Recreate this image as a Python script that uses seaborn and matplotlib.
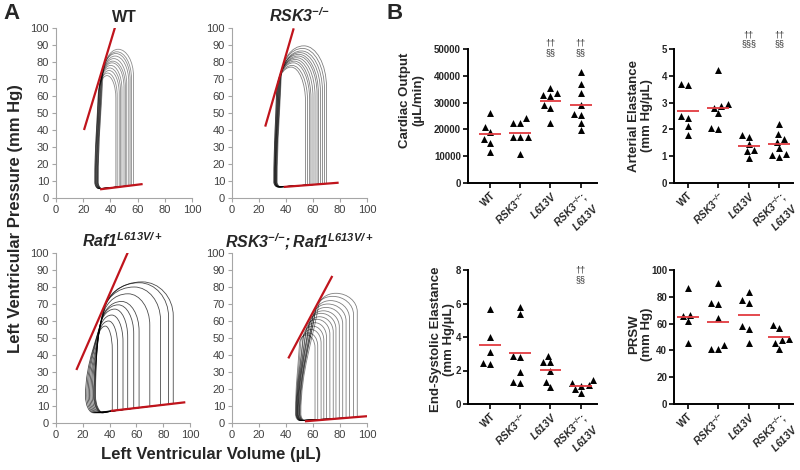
import matplotlib
matplotlib.use("Agg")
import matplotlib.pyplot as plt
import numpy as np
import pandas as pd
import seaborn as sns
from matplotlib.patches import PathPatch
from matplotlib.path import Path

sns.set_style("ticks")
plt.rcParams["font.family"] = ["Liberation Sans", "DejaVu Sans"]
plt.rcParams["mathtext.fontset"] = "custom"
plt.rcParams["mathtext.rm"] = "Liberation Sans:italic:bold"
plt.rcParams["mathtext.it"] = "Liberation Sans:italic:bold"
plt.rcParams["mathtext.bf"] = "Liberation Sans:italic:bold"

#################
# Panel A data: PV loops (volume uL, pressure mm Hg), one entry per loop
#################
wt_edv = [44, 45, 46.5, 47.5, 48.5, 50, 51, 52, 53.5, 54.5, 55.5, 57]
wt_esv = [28.5, 28.5, 29, 29, 29.5, 29.5, 30, 30, 30.5, 30.5, 31, 31]
wt_ves = [31, 31, 31.5, 31.5, 32, 32.5, 32.5, 33, 33.5, 33.5, 34, 34.5]
wt_pmax = [72, 73.5, 75, 76.5, 78, 79.5, 80.5, 82, 83.5, 85, 86, 87.5]
wt_espvr = ([20.6, 43.4], [40, 100.4])
wt_edpvr = ([32.4, 63.7], [5.1, 8.2])

rsk_edv = [54.5, 56, 57.5, 58.5, 60, 61.5, 63, 64, 65.5, 67, 68.5, 70]
rsk_esv = [31, 31, 31.5, 31.5, 32, 32, 32, 32.5, 32.5, 33, 33, 33.5]
rsk_ves = [33, 33, 33.5, 34, 34, 34.5, 35, 35, 35.5, 36, 36, 36.5]
rsk_pmax = [77, 78, 79.5, 80.5, 81.5, 82.5, 83.5, 84.5, 85.5, 86.5, 88, 89.5]
rsk_espvr = ([24.6, 45.7], [42, 99.8])
rsk_edpvr = ([38.3, 79], [6.5, 9])

raf_edv = [42, 46, 50, 53.5, 58, 62, 70, 78, 84, 87.5]
raf_esv = [29.5, 29, 28.5, 28, 27, 26, 25, 24, 23, 22]
raf_ves = [30.5, 31, 31.5, 32, 32.5, 33, 34, 34.5, 35.5, 36]
raf_pmax = [57, 60, 63.5, 67, 69.5, 71.5, 76, 80, 82.5, 83]
raf_espvr = ([15.2, 53.5], [31.2, 100.2])
raf_edpvr = ([40.9, 96.5], [7.1, 12.2])

dbl_edv = [61.5, 63.5, 66, 68, 70, 72.5, 75, 77, 79.5, 82, 84.5, 87, 90, 92.8]
dbl_esv = [47, 47.5, 47.5, 48, 48, 48.5, 48.5, 49, 49, 49.5, 50, 50, 50.5, 51]
dbl_ves = [50, 51, 52.5, 53, 54.5, 55, 56.5, 57, 58, 59.5, 60, 61.5, 62, 64]
dbl_pmax = [51.8, 53, 55, 57, 59, 61, 62.5, 64.5, 66, 68, 70, 72, 74.5, 76.3]
dbl_espvr = ([41.7, 74.3], [38, 86.5])
dbl_edpvr = ([54, 100], [1.0, 4.0])

#################
# Panel B data
#################
groups = ["WT", "RSK3", "L613V", "RSK3;L613V"]
group_labels = ["WT", r"$RSK3^{{-}/{-}}$", r"$L613V$", "$RSK3^{{-}/{-}}$;\n$L613V$"]

co_wt = [26250, 21000, 19100, 16250, 15100, 11400]
co_rsk = [24100, 22500, 22500, 17250, 17250, 17250, 11000]
co_l613 = [35400, 33750, 32900, 32600, 29100, 28100, 22500]
co_dbl = [41250, 37000, 33500, 29000, 25900, 25400, 22500, 19750]

ae_wt = [3.69, 3.64, 2.5, 2.41, 2.14, 1.79]
ae_rsk = [4.2, 2.94, 2.88, 2.81, 2.6, 2.06, 2.0]
ae_l613 = [1.79, 1.72, 1.45, 1.25, 1.2, 0.95]
ae_dbl = [2.2, 1.81, 1.66, 1.54, 1.29, 1.08, 1.04, 0.98]

es_wt = [5.65, 4.02, 3.08, 2.47, 2.37]
es_rsk = [5.81, 5.35, 2.88, 2.83, 1.89, 1.33, 1.23]
es_l613 = [2.88, 2.49, 2.49, 1.99, 1.33, 0.99]
es_dbl = [1.43, 1.27, 1.13, 1.09, 0.9, 0.64]

prsw_wt = [86.3, 66.7, 65.7, 61.9, 45.3]
prsw_rsk = [90, 75.6, 74.6, 64.2, 43.8, 41.3, 40.8]
prsw_l613 = [83.8, 77.6, 75.6, 58.2, 55.7, 45.8]
prsw_dbl = [59, 56.5, 48.3, 47.8, 45.3, 41]

co_marks = ["", "", "††\n§§", "††\n§§"]
ae_marks = ["", "", "††\n§§§", "††\n§§"]
es_marks = ["", "", "", "††\n§§"]
prsw_marks = ["", "", "", ""]

RED = "#c0141c"
MEAN_RED = "#e23a40"

fig = plt.figure(figsize=(8, 4.7), dpi=100)


def px_axes(left, top, right, bottom):
    return fig.add_axes([left / 800, 1 - bottom / 470, (right - left) / 800, (bottom - top) / 470])


def pv_loop(edv, esv, ves, pmax, edp, pmin, pes_frac, pb_frac, f, hb, wb):
    k = 0.55
    pes = pes_frac * pmax
    pb = edp + pb_frac * (pmax - edp)
    vpk = ves + f * (edv - ves)
    pe = pmin + hb
    dv, dp = esv - ves, pe - pes
    s = k * (pmax - pes) / -dp
    verts = [(edv, edp), (edv, pb),
             (edv, pb + k * (pmax - pb)), (vpk + k * (edv - vpk), pmax), (vpk, pmax),
             (vpk - k * (vpk - ves), pmax), (ves - s * dv, pes - s * dp), (ves, pes),
             (ves + 0.3 * dv, pes + 0.3 * dp), (esv, pe + 0.4 * (pes - pe)), (esv, pe),
             (esv, pe - k * hb), (esv + wb - k * wb, pmin), (esv + wb, pmin),
             (edv, edp)]
    codes = [Path.MOVETO, Path.LINETO] + [Path.CURVE4] * 12 + [Path.LINETO]
    return Path(verts, codes)


panels_a = [
    ((56, 28, 192, 198), "WT", wt_edv, wt_esv, wt_ves, wt_pmax, wt_espvr, wt_edpvr,
     dict(pmin=5.5, pes_frac=0.82, pb_frac=0.8, f=0.5, hb=4, wb=3), 0.45),
    ((232, 28, 367, 198), r"$RSK3^{{-}/{-}}$", rsk_edv, rsk_esv, rsk_ves, rsk_pmax, rsk_espvr, rsk_edpvr,
     dict(pmin=6.5, pes_frac=0.8, pb_frac=0.7, f=0.5, hb=3, wb=3), 0.5),
    ((56, 253, 190, 423), r"$Raf1^{L613V/+}$", raf_edv, raf_esv, raf_ves, raf_pmax, raf_espvr, raf_edpvr,
     dict(pmin=6, pes_frac=0.8, pb_frac=0.72, f=0.55, hb=10, wb=6), 0.7),
    ((232, 253, 367, 423), r"$RSK3^{{-}/{-}}{;}Raf1^{L613V/+}$", dbl_edv, dbl_esv, dbl_ves, dbl_pmax,
     dbl_espvr, dbl_edpvr, dict(pmin=1.5, pes_frac=0.9, pb_frac=0.85, f=0.45, hb=4, wb=3), 0.5),
]

for rect, title, edv, esv, ves, pmax, espvr, edpvr, shape, alpha in panels_a:
    ax = px_axes(*rect)
    edp = np.interp(edv, edpvr[0], edpvr[1])
    for i in range(len(edv)):
        path = pv_loop(edv[i], esv[i], ves[i], pmax[i], edp[i], **shape)
        ax.add_patch(PathPatch(path, fill=False, edgecolor="black", lw=0.6, alpha=alpha, zorder=2))
    ax.plot(espvr[0], espvr[1], color=RED, lw=1.6, zorder=3, solid_capstyle="butt")
    ax.plot(edpvr[0], edpvr[1], color=RED, lw=1.6, zorder=3, solid_capstyle="butt")
    ax.set_xlim(0, 100)
    ax.set_ylim(0, 100)
    ax.set_xticks(range(0, 101, 20))
    ax.set_yticks(range(0, 101, 10))
    ax.grid(False)
    for side in ["top", "right"]:
        ax.spines[side].set_visible(False)
    for side in ["left", "bottom"]:
        ax.spines[side].set_color("#a6a6a6")
        ax.spines[side].set_linewidth(0.8)
    ax.tick_params(colors="#a6a6a6", labelcolor="#404040", labelsize=8, length=3, width=0.8, pad=2)
    ax.set_title(title, fontsize=11.5, fontweight="bold", pad=4)

fig.text(16 / 800, 1 - 219 / 470, "Left Ventricular Pressure (mm Hg)", rotation=90,
         ha="center", va="center", fontsize=12, fontweight="bold")
fig.text(211 / 800, 1 - 455 / 470, "Left Ventricular Volume (\u00b5L)",
         ha="center", va="center", fontsize=12, fontweight="bold")
fig.text(3 / 800, 1 - 3 / 470, "A", ha="left", va="top", fontsize=16, fontweight="bold")
fig.text(387 / 800, 1 - 3 / 470, "B", ha="left", va="top", fontsize=16, fontweight="bold")

#################
# Panel B: scatter with group means
#################
panels_b = [
    ((468, 49, 597, 183), [co_wt, co_rsk, co_l613, co_dbl], "Cardiac Output\n(\u00b5L/min)",
     50000, 10000, co_marks, 50400, (-0.73, 3.54), -0.34, 0.62),
    ((674, 49, 793, 183), [ae_wt, ae_rsk, ae_l613, ae_dbl], "Arterial Elastance\n(mm Hg/\u00b5L)",
     5, 1, ae_marks, 5.36, (-0.45, 3.45), -0.18, 0.5),
    ((468, 270, 597, 404), [es_wt, es_rsk, es_l613, es_dbl], "End-Systolic Elastance\n(mm Hg/\u00b5L)",
     8, 2, es_marks, 7.7, (-0.73, 3.54), -0.1, 0.48),
    ((674, 270, 793, 404), [prsw_wt, prsw_rsk, prsw_l613, prsw_dbl], "PRSW\n(mm Hg)",
     100, 20, prsw_marks, 0, (-0.45, 3.45), -0.18, 0.52),
]

for rect, series, ylabel, ymax, ystep, marks, mark_y, xlim, lab_x, lab_y in panels_b:
    ax = px_axes(*rect)
    df = pd.DataFrame({
        "group": np.repeat(groups, [len(s) for s in series]),
        "value": np.concatenate(series),
    })
    sns.swarmplot(data=df, x="group", y="value", order=groups, marker="^", color="black",
                  size=5, ax=ax, zorder=2)
    means = df.groupby("group")["value"].mean().reindex(groups).values
    xs = np.arange(len(groups))
    ax.hlines(means, xs - 0.36, xs + 0.36, color=MEAN_RED, lw=1.3, zorder=3)
    for x, m in zip(xs, marks):
        if m:
            ax.text(x, mark_y, m, ha="center", va="center", fontsize=6.5, color="#333333",
                    linespacing=1.05, clip_on=False)
    ax.set_xlim(*xlim)
    ax.set_ylim(0, ymax)
    ax.set_yticks(np.arange(0, ymax + ystep / 2, ystep))
    ax.set_xticks(xs)
    ax.set_xticklabels(group_labels, rotation=45, ha="right", rotation_mode="anchor",
                       fontsize=7.3, fontweight="bold", multialignment="right")
    ax.set_xlabel("")
    ax.set_ylabel(ylabel, fontsize=9.5, fontweight="bold", linespacing=1.1)
    ax.yaxis.set_label_coords(lab_x, lab_y)
    for side in ["top", "right"]:
        ax.spines[side].set_visible(False)
    for side in ["left", "bottom"]:
        ax.spines[side].set_linewidth(1.4)
        ax.spines[side].set_color("black")
    ax.tick_params(axis="both", length=3.5, width=1.2, color="black", pad=1.5)
    ax.tick_params(axis="y", labelsize=7)
    for lbl in ax.get_yticklabels():
        lbl.set_fontweight("bold")

fig.savefig("out.png", dpi=100)
